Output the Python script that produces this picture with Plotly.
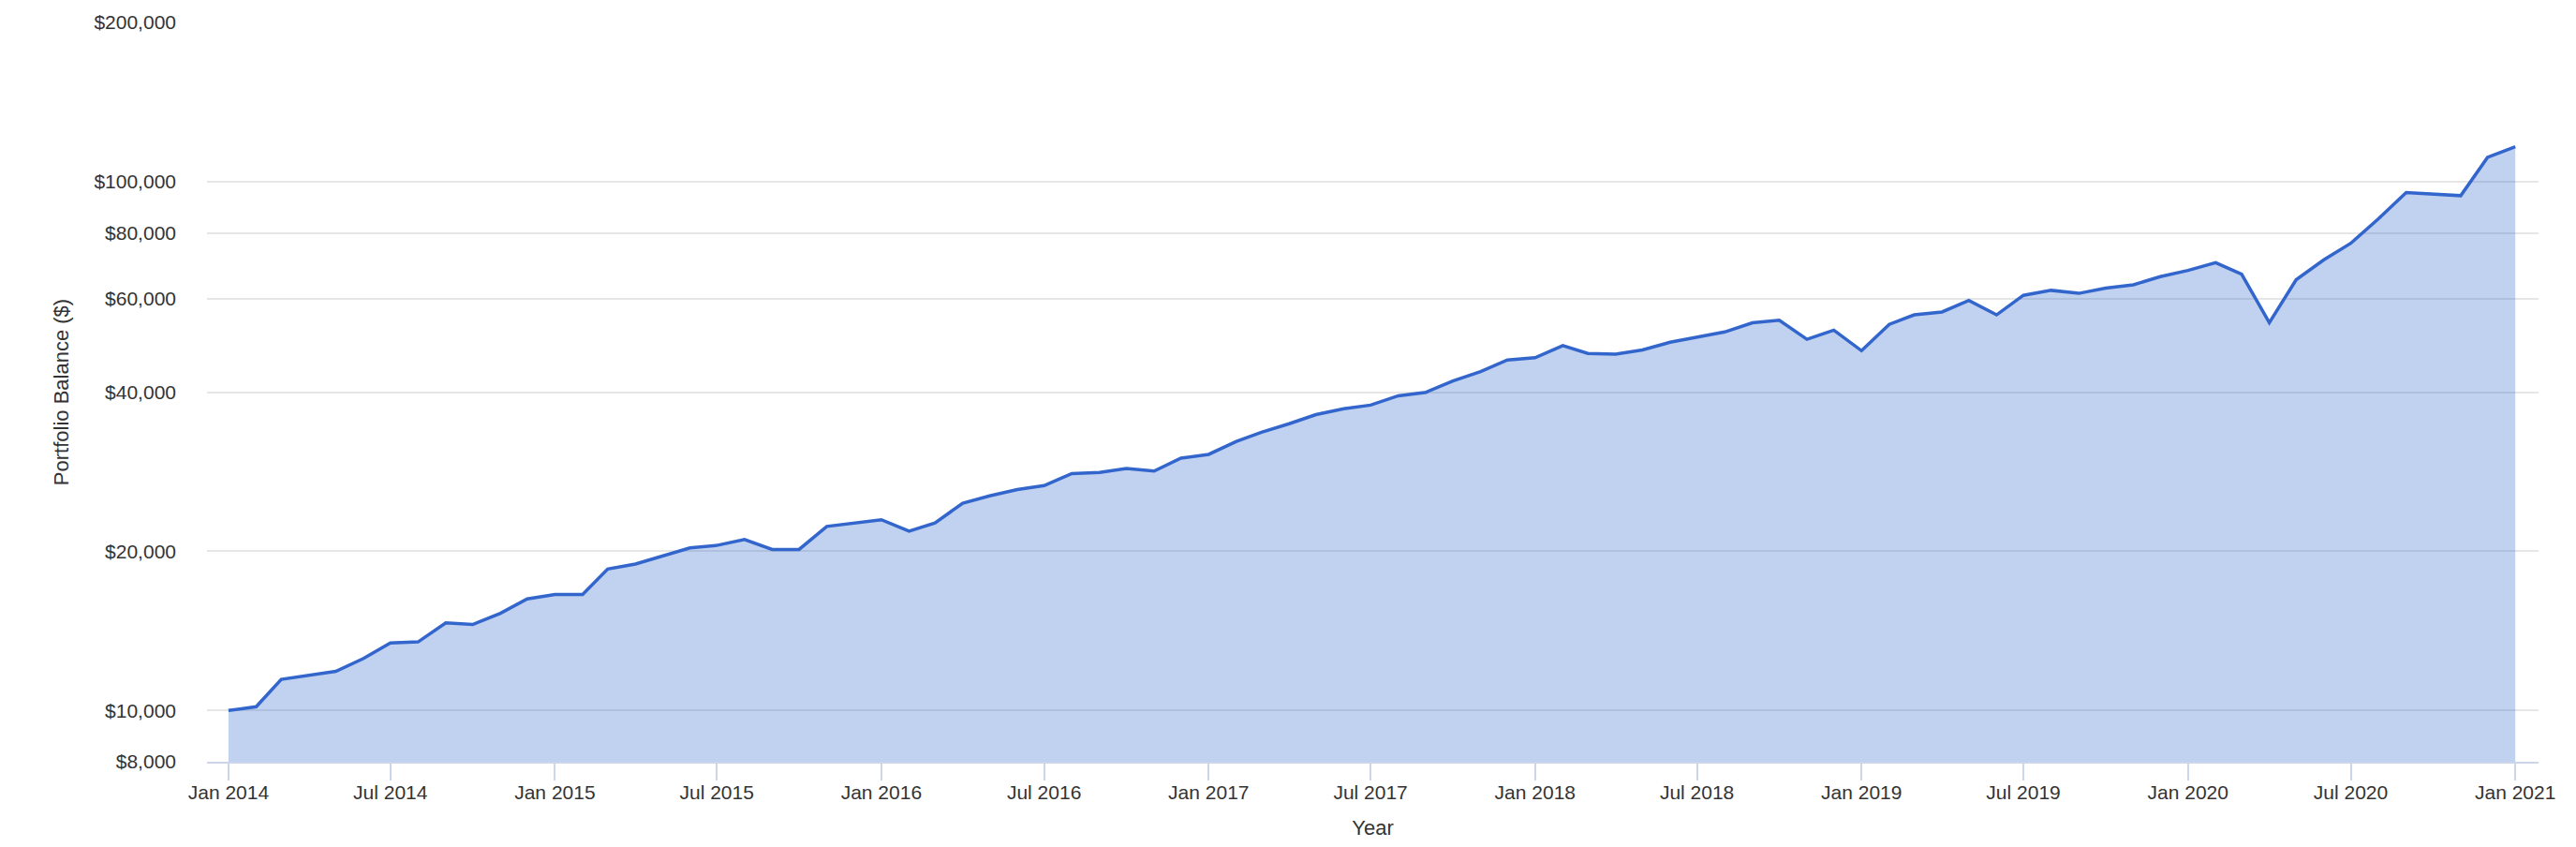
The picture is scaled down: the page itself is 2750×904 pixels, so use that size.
import plotly.graph_objects as go
import pandas as pd

# Datos: saldo mensual de la cartera (ene 2014 - ene 2021)
meses = pd.date_range("2014-01-01", "2021-01-01", freq="MS")
saldo = [
    10000, 10165, 11450, 11650, 11860, 12540, 13420, 13480, 14640, 14540, 15270, 16260,
    16570, 16570, 18510, 18920, 19600, 20300, 20520, 21050, 20160, 20160, 22290, 22620,
    22950, 21830, 22630, 24660, 25460, 26170, 26620, 28060, 28200, 28670, 28360, 30000,
    30500, 32270, 33590, 34850, 36260, 37200, 37800, 39370, 39970, 41990, 43740, 46000,
    46460, 48980, 47330, 47190, 48060, 49700, 50760, 51970, 54090, 54680, 50350, 52370,
    47900, 53730, 55990, 56710, 59610, 55990, 60970, 62300, 61490, 62910, 63840, 66130,
    67940, 70300, 66850, 54110, 65250, 71170, 76460, 85100, 95370, 94850, 94090, 111150,
    116400,
]

y_ticks = [8000, 10000, 20000, 40000, 60000, 80000, 100000, 200000]
y_labels = ["$8,000", "$10,000", "$20,000", "$40,000", "$60,000", "$80,000", "$100,000", "$200,000"]

fuente = "Liberation Sans, Arial, Helvetica, sans-serif"

fig = go.Figure()
fig.add_trace(go.Scatter(
    x=meses, y=saldo, mode="lines", name="Portfolio",
    line=dict(color="#3366cc", width=3.5),
    fill="tozeroy", fillcolor="rgba(51,102,204,0.30)",
))

fig.update_layout(
    width=2750, height=904,
    margin=dict(l=221, r=40, t=22, b=75),
    plot_bgcolor="white", paper_bgcolor="white",
    showlegend=False,
    font=dict(family=fuente, size=21, color="#333333"),
    xaxis=dict(
        title=dict(text="Year", font=dict(size=22, color="#333333"), standoff=19),
        range=["2013-12-08", "2021-01-27"],
        tick0="2014-01-01", dtick="M6", tickformat="%b %Y",
        showgrid=False, zeroline=False,
        showline=True, linecolor="#ccd6eb", linewidth=2,
        ticks="outside", ticklen=18, tickwidth=2, tickcolor="#ccd6eb",
        ticklabelstandoff=-5,
        tickfont=dict(size=21, color="#333333"),
    ),
    yaxis=dict(
        title=dict(text="Portfolio Balance ($)", font=dict(size=22, color="#333333"), standoff=20),
        type="log",
        range=[3.90309, 5.30103],
        tickvals=y_ticks, ticktext=y_labels,
        showgrid=True, gridcolor="#e6e6e6", gridwidth=2,
        zeroline=False, showline=False,
        ticks="", ticklabelstandoff=32,
        tickfont=dict(size=21, color="#333333"),
    ),
)

# sin margen en el body para que la figura ocupe toda la ventana
fig.write_html("out.html",
               config={"displayModeBar": False},
               post_script="document.body.style.margin='0';document.body.style.overflow='hidden';")
